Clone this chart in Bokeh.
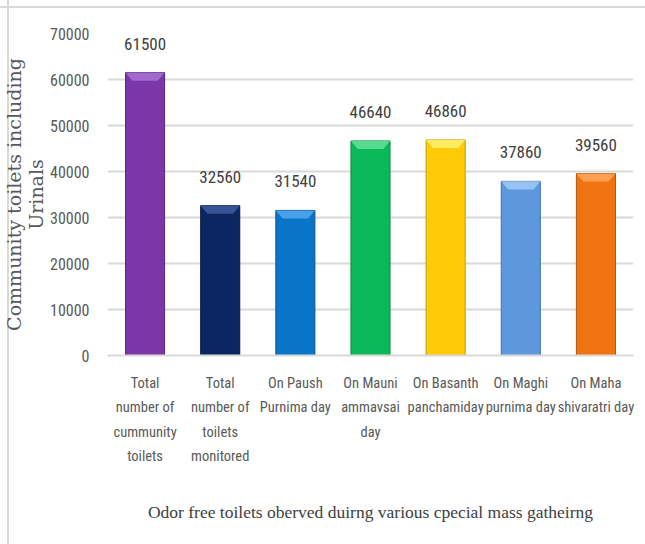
from bokeh.plotting import figure
from bokeh.models import FixedTicker, ColumnDataSource, Range1d
from bokeh.core.properties import value
from bokeh.embed import file_html
from bokeh.resources import INLINE

categories = [
    "Total\nnumber of\ncummunity\ntoilets",
    "Total\nnumber of\ntoilets\nmonitored",
    "On Paush\nPurnima day",
    "On Mauni\nammavsai\nday",
    "On Basanth\npanchamiday",
    "On Maghi\npurnima day",
    "On Maha\nshivaratri day",
]
values = [61500, 32560, 31540, 46640, 46860, 37860, 39560]
colors = ["#7b37a8", "#0c2663", "#0a75c8", "#0bb85a", "#ffca08", "#5d97dc", "#ef7311"]
edge_colors = ["#5a2480", "#06173f", "#075596", "#078a43", "#c79c00", "#3f73b0", "#b85406"]
top_colors = ["#a66fd0", "#3a5a9a", "#4ea6ec", "#5fe095", "#fff06a", "#9cc8f5", "#ffa55a"]
y_ticks = [0, 10000, 20000, 30000, 40000, 50000, 60000, 70000]
y_title = "Community toilets including\nUrinals"
x_title = "Odor free toilets oberved duirng various cpecial mass gatheirng"

NARROW = "Roboto Condensed"

xs = [i + 0.5 for i in range(len(values))]
bw = 0.52
bev_h = 1750
bev_d = 0.09

p = figure(width=645, height=544, output_backend="svg", toolbar_location=None,
           x_range=Range1d(0, len(values)), y_range=Range1d(0, 70000),
           min_border_left=107, min_border_right=12, min_border_top=33,
           min_border_bottom=189)
p.styles = {"background": "linear-gradient(to right, transparent 7px, #d9d9d9 7px, "
                          "#d9d9d9 9px, transparent 9px), "
                          "linear-gradient(to bottom, white 6px, #d9d9d9 6px, "
                          "#d9d9d9 8px, white 8px)"}
p.background_fill_color = "white"
p.border_fill_color = None
p.outline_line_color = None

src = ColumnDataSource(dict(x=xs, top=values, color=colors, edge=edge_colors,
                            lab=[str(v) for v in values]))
p.vbar(x="x", top="top", bottom=0, width=bw, source=src, fill_color="color",
       line_color="edge", line_width=1)

# top bevel
px, py = [], []
for x, v in zip(xs, values):
    px.append([x - bw / 2, x + bw / 2, x + bw / 2 - bev_d, x - bw / 2 + bev_d])
    py.append([v, v, v - bev_h, v - bev_h])
p.patches(px, py, fill_color=top_colors, line_color=None, fill_alpha=0.9)

p.text(x="x", y="top", text="lab", source=src, text_align="center",
       text_baseline="middle", y_offset=-29, text_font=value(NARROW),
       text_font_size="17px", text_color="#404040")

p.xgrid.visible = False
p.ygrid.grid_line_color = "#d9d9d9"
p.ygrid.grid_line_width = 2

p.yaxis.ticker = FixedTicker(ticks=y_ticks)
p.yaxis.axis_line_color = None
p.yaxis.major_tick_line_color = None
p.yaxis.minor_tick_line_color = None
p.yaxis.major_label_standoff = 12
p.yaxis.major_label_text_font = NARROW
p.yaxis.major_label_text_font_size = "16px"
p.yaxis.major_label_text_color = "#595959"
p.yaxis.axis_label = y_title
p.yaxis.axis_label_text_font = "DejaVu Serif"
p.yaxis.axis_label_text_font_size = "19px"
p.yaxis.axis_label_text_font_style = "normal"
p.yaxis.axis_label_text_color = "#595959"
p.yaxis.axis_label_text_line_height = 1.0
p.yaxis.axis_label_standoff = 0

p.xaxis.ticker = FixedTicker(ticks=xs)
p.xaxis.major_label_overrides = {x: c for x, c in zip(xs, categories)}
p.xaxis.axis_line_color = "#d9d9d9"
p.xaxis.axis_line_width = 2
p.xaxis.major_tick_line_color = None
p.xaxis.minor_tick_line_color = None
p.xaxis.major_label_standoff = 13
p.xaxis.major_label_text_font = NARROW
p.xaxis.major_label_text_font_size = "14.5px"
p.xaxis.major_label_text_color = "#595959"
p.xaxis.major_label_text_line_height = 1.45
p.xaxis.axis_label = x_title
p.xaxis.axis_label_text_font = "Liberation Serif"
p.xaxis.axis_label_text_font_size = "17.5px"
p.xaxis.axis_label_text_font_style = "normal"
p.xaxis.axis_label_text_color = "#404040"
p.xaxis.axis_label_standoff = 34

open("out.html", "w").write(file_html(p, INLINE))
